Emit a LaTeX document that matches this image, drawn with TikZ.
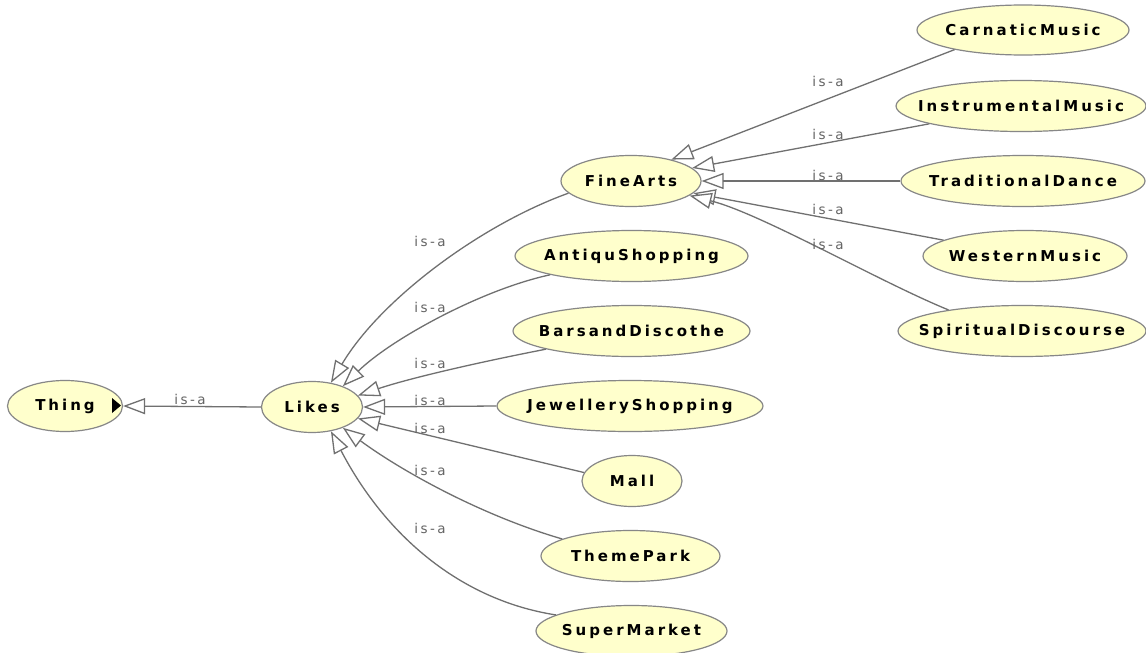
\documentclass[tikz,border=0pt]{standalone}
\usepackage{fontspec}
\usetikzlibrary{arrows.meta,shapes.geometric}
\newfontfamily\nodefont[LetterSpace=20]{DejaVu Sans}
\newfontfamily\isafont[LetterSpace=18]{DejaVu Sans}
\definecolor{nodefill}{RGB}{255,255,204}
\definecolor{nodeline}{RGB}{135,135,135}
\definecolor{edgecol}{RGB}{112,112,112}
\definecolor{labelcol}{RGB}{100,100,100}
\newcommand\nodetxt[1]{\makebox[0pt]{\nodefont\bfseries\fontsize{15pt}{15pt}\selectfont #1}}
\begin{document}
\begin{tikzpicture}[x=1pt,y=-1pt,
  cls/.style={ellipse, draw=nodeline, fill=nodefill, line width=1.2pt, inner sep=0pt, minimum height=51pt},
  isa/.style={draw=edgecol, line width=1.3pt, -{Triangle[length=22pt,width=16pt,fill=white]}},
  lab/.style={text=labelcol, font=\isafont\fontsize{13.5pt}{13.5pt}\selectfont, inner sep=0pt}
]
\useasboundingbox[fill=white] (0,0) rectangle (1146,653);

% nodes
\node[cls, minimum width=115pt] (thing) at (65,406) {\nodetxt{Thing}};
\node[cls, minimum width=101pt] (likes) at (312,407) {\nodetxt{Likes}};
\node[cls, minimum width=140pt] (finearts) at (631,181) {\nodetxt{FineArts}};
\node[cls, minimum width=233pt] (antiqu) at (631.5,256) {\nodetxt{AntiquShopping}};
\node[cls, minimum width=237pt] (bars) at (631.5,331) {\nodetxt{BarsandDiscothe}};
\node[cls, minimum width=266pt] (jewel) at (630,406) {\nodetxt{JewelleryShopping}};
\node[cls, minimum width=100pt] (mall) at (632,481) {\nodetxt{Mall}};
\node[cls, minimum width=179pt] (theme) at (630.5,556) {\nodetxt{ThemePark}};
\node[cls, minimum width=191pt] (super) at (631.5,631) {\nodetxt{SuperMarket}};
\node[cls, minimum width=212pt, minimum height=50pt] (carnatic) at (1023,30) {\nodetxt{CarnaticMusic}};
\node[cls, minimum width=250pt] (instr) at (1021,106) {\nodetxt{InstrumentalMusic}};
\node[cls, minimum width=244pt] (trad) at (1023,181) {\nodetxt{TraditionalDance}};
\node[cls, minimum width=204pt] (western) at (1025,256) {\nodetxt{WesternMusic}};
\node[cls, minimum width=248pt] (spirit) at (1022,331) {\nodetxt{SpiritualDiscourse}};

% expand marker in Thing
\fill[black] (112,398) -- (121,405.5) -- (112,413) -- cycle;

% edges to Thing and Likes
\draw[isa] (likes.west) -- (thing.east);
\draw[isa] (finearts.191) .. controls (480,225) and (380,300) .. (likes.52);
\draw[isa] (antiqu.193) .. controls (480,290) and (390,340) .. (likes.34);
\draw[isa] (bars.192) .. controls (480,362) and (410,378) .. (likes.14);
\draw[isa] (jewel.west) -- (likes.east);
\draw[isa] (mall.170) -- (likes.-14);
\draw[isa] (theme.166) .. controls (480,515) and (400,470) .. (likes.-34);
\draw[isa] (super.168) .. controls (460,600) and (385,535) .. (likes.-52);

% edges to FineArts
\draw[isa] (carnatic.196) -- (finearts.28);
\draw[isa] (instr.191) -- (finearts.12);
\draw[isa] (trad.west) -- (finearts.east);
\draw[isa] (western.169) -- (finearts.-11);
\draw[isa] (spirit.164) .. controls (880,282) and (760,213) .. (finearts.-14);

% labels
\node[lab] (l0) at (190,399) {is-a};
\node[lab] (l1) at (430,241) {is-a};
\node[lab] (l2) at (430,307) {is-a};
\node[lab] (l3) at (430,363) {is-a};
\node[lab] (l4) at (430,400) {is-a};
\node[lab] (l5) at (430,428) {is-a};
\node[lab] (l6) at (430,470) {is-a};
\node[lab] (l7) at (430,528) {is-a};
\node[lab] (f1) at (828,81) {is-a};
\node[lab] (f2) at (828,134) {is-a};
\node[lab] (f3) at (828,175) {is-a};
\node[lab] (f4) at (828,209) {is-a};
\node[lab] (f5) at (828,244) {is-a};
\end{tikzpicture}
\end{document}
